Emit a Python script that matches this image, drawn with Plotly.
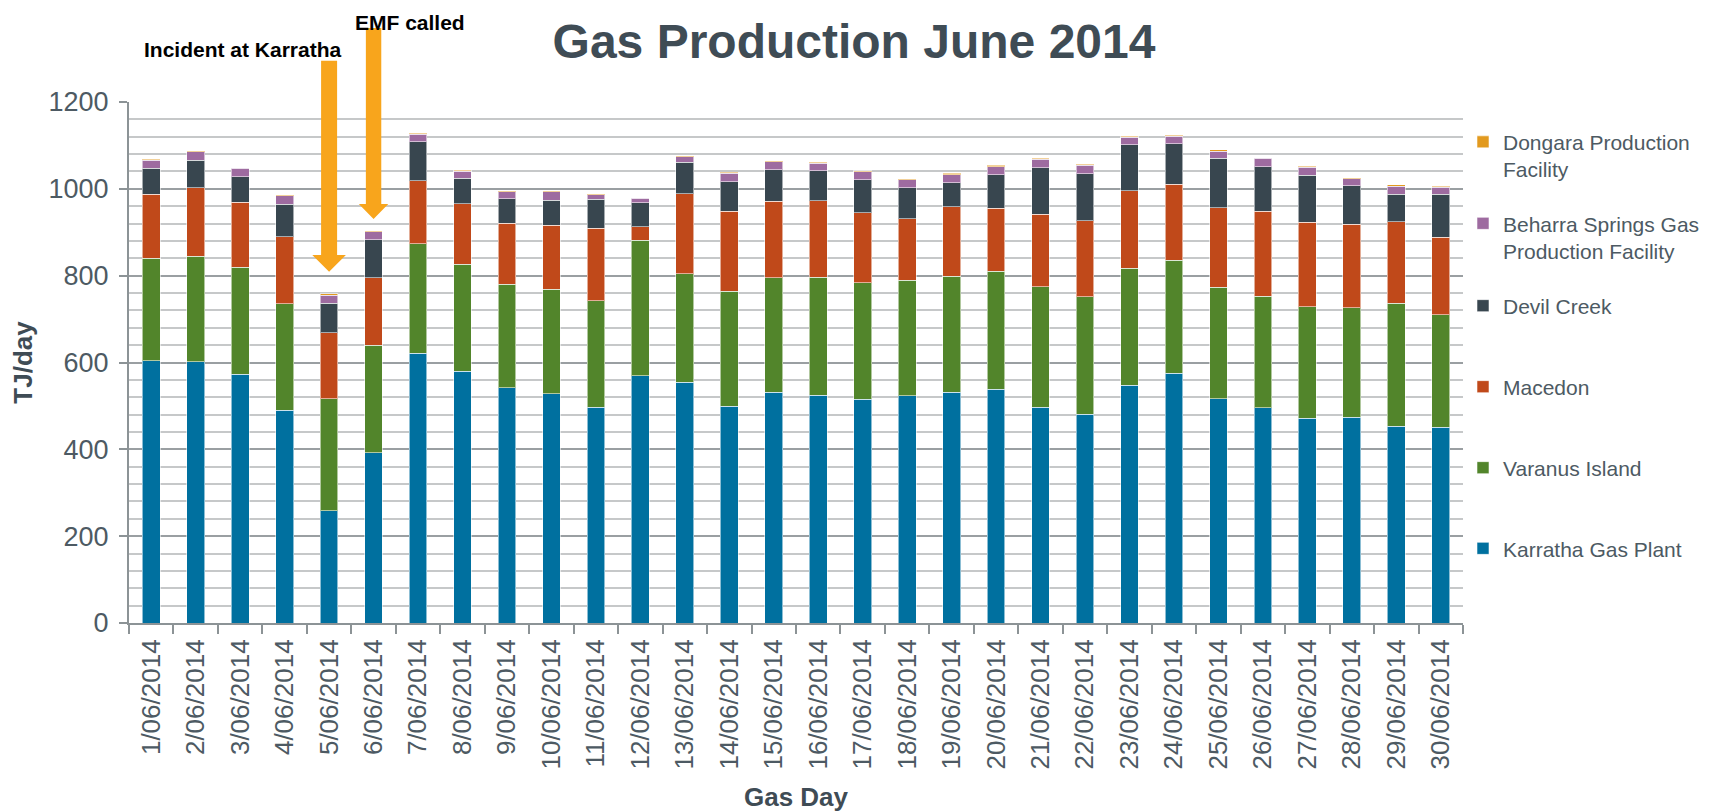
import plotly.graph_objects as go

days = ["1/06/2014", "2/06/2014", "3/06/2014", "4/06/2014", "5/06/2014",
        "6/06/2014", "7/06/2014", "8/06/2014", "9/06/2014", "10/06/2014",
        "11/06/2014", "12/06/2014", "13/06/2014", "14/06/2014", "15/06/2014",
        "16/06/2014", "17/06/2014", "18/06/2014", "19/06/2014", "20/06/2014",
        "21/06/2014", "22/06/2014", "23/06/2014", "24/06/2014", "25/06/2014",
        "26/06/2014", "27/06/2014", "28/06/2014", "29/06/2014", "30/06/2014"]

karratha = [604, 602, 573, 490, 258, 392, 621, 580, 542, 528, 497, 570, 554, 499, 531,
            525, 515, 523, 531, 538, 497, 481, 548, 575, 517, 496, 472, 474, 453, 451]
varanus = [236, 243, 246, 245, 259, 248, 253, 246, 238, 241, 245, 312, 250, 265, 264,
           271, 269, 267, 268, 272, 278, 270, 269, 260, 256, 257, 256, 252, 284, 259]
macedon = [147, 158, 150, 155, 151, 155, 145, 140, 141, 147, 167, 31, 185, 184, 176,
           176, 161, 141, 160, 145, 167, 176, 179, 175, 184, 195, 195, 193, 187, 178]
devil_creek = [60, 63, 59, 75, 68, 88, 89, 58, 56, 58, 67, 55, 72, 68, 73,
               70, 76, 72, 55, 77, 106, 108, 105, 94, 113, 103, 108, 88, 64, 99]
beharra = [19, 19, 19, 19, 19, 18, 18, 17, 16, 19, 10, 10, 13, 20, 18,
           17, 18, 18, 19, 19, 20, 19, 18, 17, 17, 19, 19, 16, 18, 17]
dongara = [2.5, 2, 1.5, 2.5, 3, 2.5, 2, 2, 3, 3, 2.5, 1.5, 2.5, 2, 3,
           2, 2.5, 2.5, 2.5, 3, 2.5, 2.5, 2.5, 3, 2.5, 1.5, 2, 2.5, 3, 2]

series_names = ["Karratha Gas Plant", "Varanus Island", "Macedon", "Devil Creek",
                "Beharra Springs Gas<br>Production Facility", "Dongara Production<br>Facility"]
series_values = [karratha, varanus, macedon, devil_creek, beharra, dongara]
series_colors = ["#00709F", "#52852B", "#C0491A", "#38464F", "#9E6BA0", "#E29A1F"]

annotation_texts = ["Incident at Karratha", "EMF called"]
annotation_days = ["5/06/2014", "6/06/2014"]

# ---- layout geometry (pixels, window coordinates; page body has an 8px margin) ----
OFF = 8
W, H = 1714, 811
PLOT_L, PLOT_R, PLOT_T, PLOT_B = 129, 1463, 102, 623   # plot area in window px
ML = PLOT_L - OFF
MT = PLOT_T - OFF
MR = W - (PLOT_R - OFF)
MB = H - (PLOT_B - OFF)
PW = PLOT_R - PLOT_L
PH = PLOT_B - PLOT_T
FONT = "Liberation Sans, Arial, sans-serif"
TEXT_COL = "#4D5A63"
DARK = "#3F4C55"


def xp(px):
    return (px - PLOT_L) / PW


def yp(py):
    return (PLOT_B - py) / PH


fig = go.Figure()

legend_centers_px = [548.7, 468, 387, 306, 237.2, 155.7]
for i, (name, vals, col) in enumerate(zip(series_names, series_values, series_colors)):
    lname = "legend" if i == 0 else f"legend{i + 1}"
    fig.add_trace(go.Bar(
        x=days, y=vals, name=name, legend=lname, showlegend=True,
        marker=dict(color=col, line=dict(color="rgba(255,255,255,0.55)", width=1)),
    ))

legend_layouts = {}
for i, cy in enumerate(legend_centers_px):
    lname = "legend" if i == 0 else f"legend{i + 1}"
    legend_layouts[lname] = dict(
        x=xp(1463), y=yp(cy), xanchor="left", yanchor="middle",
        xref="paper", yref="paper", valign="top",
        bgcolor="rgba(0,0,0,0)", borderwidth=0,
        font=dict(family=FONT, size=21, color=TEXT_COL),
    )

# arrows (orange block arrows above day 5 and 6)
N = len(days)
arrow_specs = [
    # day label, top px, head-base px, tip px, shaft half width, head half width
    (annotation_days[0], 60.7, 255, 271.7, 8.0, 16.8),
    (annotation_days[1], 28.0, 204, 219.0, 7.7, 14.7),
]
shapes = []
for day, top, hb, tip, sw, hw in arrow_specs:
    idx = days.index(day)
    cx_paper = (idx + 0.5) / N
    cx = PLOT_L + cx_paper * PW
    pts = [(cx - sw, top), (cx + sw, top), (cx + sw, hb), (cx + hw, hb), (cx, tip),
           (cx - hw, hb), (cx - sw, hb)]
    path = "M " + " L ".join(f"{xp(a):.5f},{yp(b):.5f}" for a, b in pts) + " Z"
    shapes.append(dict(type="path", path=path, xref="paper", yref="paper",
                       fillcolor="#F8A51C", line=dict(width=0), layer="above"))

annotations = [
    dict(text="<b>" + annotation_texts[0] + "</b>", x=xp(242.5), y=yp(49.5),
         xref="paper", yref="paper", showarrow=False, xanchor="center", yanchor="middle",
         font=dict(family=FONT, size=21, color="#000000")),
    dict(text="<b>" + annotation_texts[1] + "</b>", x=xp(410), y=yp(OFF + 1),
         xref="paper", yref="paper", showarrow=False, xanchor="center", yanchor="top",
         font=dict(family=FONT, size=21, color="#000000")),
]

fig.update_layout(
    template="none",
    width=W, height=H,
    showlegend=True,
    margin=dict(l=ML, r=MR, t=MT, b=MB, pad=0),
    paper_bgcolor="white", plot_bgcolor="white",
    barmode="stack", bargap=0.6,
    title=dict(text="Gas Production June 2014", x=(854 - OFF) / W, xref="container",
               y=1 - (41.5 - OFF) / H, yref="container", xanchor="center", yanchor="middle",
               font=dict(family=FONT, size=48, color=DARK, weight="bold")),
    xaxis=dict(
        type="category", tickangle=-90, tickson="boundaries",
        ticks="outside", ticklen=9, tickwidth=1.5, tickcolor="#8C9396",
        showline=True, linecolor="#8C9396", linewidth=2, showgrid=False,
        tickfont=dict(family=FONT, size=26, color=TEXT_COL),
        ticklabelstandoff=4,
        title=dict(text="Gas Day", standoff=19,
                   font=dict(family=FONT, size=26, color=DARK, weight="bold")),
        automargin=False,
    ),
    yaxis=dict(
        range=[0, 1200], dtick=200, tick0=0,
        ticks="outside", ticklen=8, tickwidth=1.5, tickcolor="#8C9396",
        showline=True, linecolor="#8C9396", linewidth=2,
        showgrid=True, gridcolor="#9A9FA2", gridwidth=1.8,
        minor=dict(dtick=40, showgrid=True, gridcolor="#C6C8C9", gridwidth=1.8, ticks=""),
        tickfont=dict(family=FONT, size=27, color=TEXT_COL),
        ticklabelstandoff=5,
        zeroline=False,
        title=dict(text="TJ/day", standoff=9,
                   font=dict(family=FONT, size=26, color=DARK, weight="bold")),
        automargin=False,
    ),
    shapes=shapes,
    annotations=annotations,
    **legend_layouts,
)

fig.write_html("out.html")
